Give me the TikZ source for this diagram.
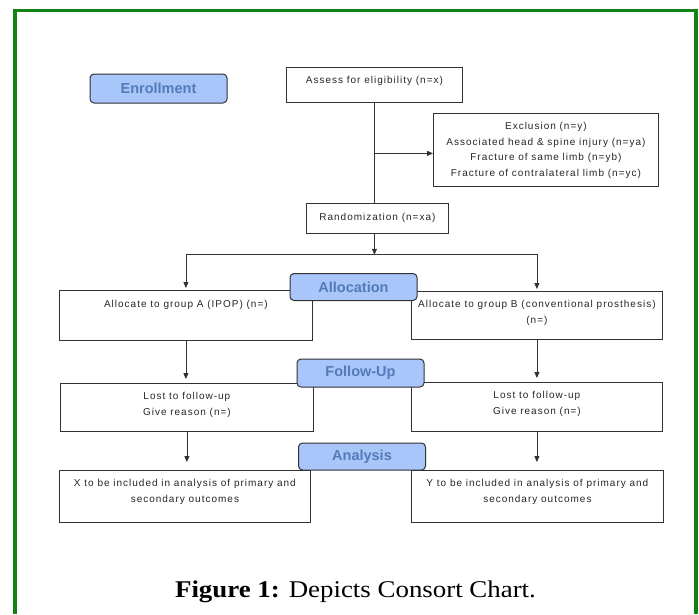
\documentclass[tikz,border=0pt]{standalone}
\usepackage{fontspec}
\usetikzlibrary{arrows.meta,positioning,calc}
\newfontfamily\boxfont[LetterSpace=10]{Liberation Sans}
\newfontfamily\phasefont{Liberation Sans}
\newfontfamily\capfont[FakeStretch=1.12]{Liberation Serif}
\definecolor{framegreen}{RGB}{20,130,20}
\definecolor{phasefill}{RGB}{168,198,250}
\definecolor{phasetext}{RGB}{84,122,184}
\definecolor{boxline}{RGB}{50,50,50}
\tikzset{
  box/.style={draw=boxline, line width=0.8pt, anchor=north west, inner sep=0pt},
  txt/.style={font=\boxfont\fontsize{10}{15.5}\selectfont, text=black!85, align=center, inner sep=0pt},
  phase/.style={draw=boxline, line width=1pt, fill=phasefill, rounded corners=4pt,
    minimum width=127pt, minimum height=27pt, inner sep=0pt, text=phasetext,
    font=\phasefont\bfseries\fontsize{14.5}{16}\selectfont},
  link/.style={draw=boxline, line width=0.8pt},
  arr/.style={link, -{Triangle[length=6pt,width=5pt]}},
}
\begin{document}
\begin{tikzpicture}[x=1pt,y=-1pt]
  \path[use as bounding box, fill=white] (0,0) rectangle (699,614);
  \draw[framegreen, line width=3.5pt] (15,614) -- (15,10.5) -- (696,10.5) -- (696,614);

  \node[box, minimum width=176pt, minimum height=35pt] (assess) at (286,67) {};
  \node[box, minimum width=225pt, minimum height=73pt] (excl) at (433,113) {};
  \node[box, minimum width=142pt, minimum height=30pt] (rand) at (306,203) {};
  \node[box, minimum width=253pt, minimum height=50pt] (allocA) at (59,290) {};
  \node[box, minimum width=251pt, minimum height=48pt] (allocB) at (411,291) {};
  \node[box, minimum width=253pt, minimum height=48pt] (lostA) at (60,383) {};
  \node[box, minimum width=251pt, minimum height=49pt] (lostB) at (411,382) {};
  \node[box, minimum width=251pt, minimum height=52pt] (inclA) at (59,470) {};
  \node[box, minimum width=252pt, minimum height=52pt] (inclB) at (411,470) {};

  \node[txt, below=9.5pt of assess.north] (assesstxt) {Assess for eligibility (n=x)};
  \node[txt, below=9.5pt of excl.north] (excltxt) {Exclusion (n=y)\\
    Associated head \& spine injury (n=ya)\\Fracture of same limb (n=yb)\\
    Fracture of contralateral limb (n=yc)};
  \node[txt, below=10.5pt of rand.north] (randtxt) {Randomization (n=xa)};
  \node[txt, below=10pt of allocA.north] (allocAtxt) {Allocate to group A (IPOP) (n=)};
  \node[txt, below=9.5pt of allocB.north] (allocBtxt) {Allocate to group B (conventional prosthesis)\\(n=)};
  \node[txt, below=9.5pt of lostA.north] (lostAtxt) {Lost to follow-up\\Give reason (n=)};
  \node[txt, below=9.5pt of lostB.north] (lostBtxt) {Lost to follow-up\\Give reason (n=)};
  \node[txt, below=9.5pt of inclA.north] (inclAtxt) {X to be included in analysis of primary and\\secondary outcomes};
  \node[txt, below=9.5pt of inclB.north] (inclBtxt) {Y to be included in analysis of primary and\\secondary outcomes};

  \coordinate (exbr) at ($(assess.south |- excl.west)+(0,3.5)$);
  \coordinate (split) at ($(assess.south |- rand.south)+(0,21)$);
  \draw[link] (assess.south) -- (assess.south |- rand.north);
  \draw[arr] (exbr) -- (exbr -| excl.west);
  \draw[arr] (assess.south |- rand.south) -- (split);
  \draw[arr, shorten >=2pt] (split) -| (allocA.north);
  \draw[arr, shorten >=2pt] (split) -| (allocB.north);
  \draw[arr, shorten >=4pt] (allocA.south) -- (allocA.south |- lostA.north);
  \draw[arr, shorten >=4pt] (allocB.south) -- (allocB.south |- lostB.north);
  \draw[arr, shorten >=8pt] (lostA.south) -- (lostA.south |- inclA.north);
  \draw[arr, shorten >=8pt] (lostB.south) -- (lostB.south |- inclB.north);

  \node[phase, minimum width=137pt, minimum height=29pt] (enrol) at (158.5,88.5) {Enrollment};
  \node[phase] (alloc) at (353.5,287) {Allocation};
  \node[phase, minimum height=28pt] (follow) at (360.5,373) {Follow-Up};
  \node[phase] (analysis) at (362,456.5) {Analysis};

  \node[anchor=base, inner sep=0pt, font=\capfont\fontsize{24}{27}\selectfont] (caption)
    at (355.5,597) {\textbf{Figure 1:} Depicts Consort Chart.};
\end{tikzpicture}
\end{document}
